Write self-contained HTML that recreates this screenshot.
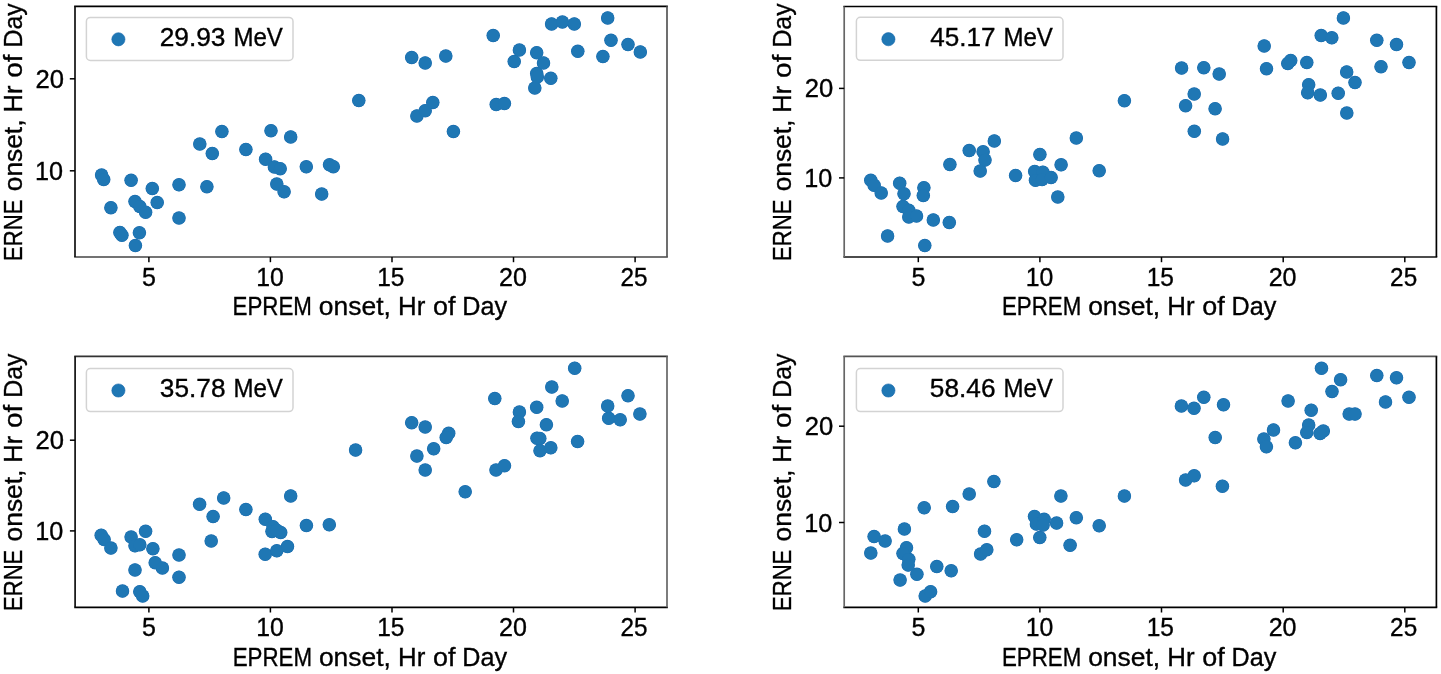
<!DOCTYPE html>
<html><head><meta charset="utf-8"><style>
html,body{margin:0;padding:0;background:#fff;width:1441px;height:674px;overflow:hidden}
svg{display:block;filter:blur(0.4px)}
text{font-family:"Liberation Sans", sans-serif;font-size:25px;fill:#000;stroke:#000;stroke-width:0.35px}
</style></head><body>
<svg width="1441" height="674" viewBox="0 0 1441 674">
<clipPath id="c0"><rect x="75.0" y="6.3" width="592.0" height="250.7"/></clipPath>
<g clip-path="url(#c0)"><g fill="#1868ad">
<circle cx="101.6" cy="175.1" r="6.75"/>
<circle cx="103.7" cy="179.4" r="6.75"/>
<circle cx="131.1" cy="180.3" r="6.75"/>
<circle cx="152.3" cy="188.6" r="6.75"/>
<circle cx="179.0" cy="184.8" r="6.75"/>
<circle cx="206.9" cy="186.7" r="6.75"/>
<circle cx="110.9" cy="207.7" r="6.75"/>
<circle cx="135.0" cy="201.6" r="6.75"/>
<circle cx="139.8" cy="206.4" r="6.75"/>
<circle cx="145.6" cy="212.2" r="6.75"/>
<circle cx="157.2" cy="202.5" r="6.75"/>
<circle cx="179.0" cy="218.0" r="6.75"/>
<circle cx="119.9" cy="232.4" r="6.75"/>
<circle cx="121.9" cy="235.3" r="6.75"/>
<circle cx="139.4" cy="232.8" r="6.75"/>
<circle cx="135.4" cy="245.5" r="6.75"/>
<circle cx="199.8" cy="144.0" r="6.75"/>
<circle cx="212.3" cy="153.4" r="6.75"/>
<circle cx="221.9" cy="131.6" r="6.75"/>
<circle cx="245.9" cy="149.4" r="6.75"/>
<circle cx="271.0" cy="130.7" r="6.75"/>
<circle cx="290.7" cy="136.9" r="6.75"/>
<circle cx="265.6" cy="159.2" r="6.75"/>
<circle cx="274.4" cy="166.9" r="6.75"/>
<circle cx="280.2" cy="168.7" r="6.75"/>
<circle cx="306.3" cy="166.8" r="6.75"/>
<circle cx="329.5" cy="164.8" r="6.75"/>
<circle cx="333.3" cy="166.7" r="6.75"/>
<circle cx="276.8" cy="184.1" r="6.75"/>
<circle cx="284.1" cy="191.8" r="6.75"/>
<circle cx="321.7" cy="194.1" r="6.75"/>
<circle cx="358.8" cy="100.5" r="6.75"/>
<circle cx="411.7" cy="57.5" r="6.75"/>
<circle cx="425.2" cy="62.9" r="6.75"/>
<circle cx="445.8" cy="56.1" r="6.75"/>
<circle cx="416.9" cy="115.9" r="6.75"/>
<circle cx="425.2" cy="110.7" r="6.75"/>
<circle cx="432.8" cy="102.5" r="6.75"/>
<circle cx="453.4" cy="131.5" r="6.75"/>
<circle cx="493.2" cy="35.5" r="6.75"/>
<circle cx="496.2" cy="104.6" r="6.75"/>
<circle cx="504.4" cy="103.6" r="6.75"/>
<circle cx="551.6" cy="23.9" r="6.75"/>
<circle cx="562.4" cy="22.0" r="6.75"/>
<circle cx="574.3" cy="23.9" r="6.75"/>
<circle cx="607.7" cy="17.9" r="6.75"/>
<circle cx="519.4" cy="50.0" r="6.75"/>
<circle cx="514.2" cy="61.5" r="6.75"/>
<circle cx="536.7" cy="52.7" r="6.75"/>
<circle cx="543.5" cy="62.9" r="6.75"/>
<circle cx="577.8" cy="51.3" r="6.75"/>
<circle cx="611.0" cy="40.3" r="6.75"/>
<circle cx="628.0" cy="44.6" r="6.75"/>
<circle cx="640.3" cy="51.9" r="6.75"/>
<circle cx="602.9" cy="56.5" r="6.75"/>
<circle cx="536.7" cy="73.5" r="6.75"/>
<circle cx="537.3" cy="77.0" r="6.75"/>
<circle cx="550.8" cy="78.3" r="6.75"/>
<circle cx="534.8" cy="88.0" r="6.75"/>
</g><g fill="#1f77b4">
<circle cx="101.6" cy="175.1" r="6.35"/>
<circle cx="103.7" cy="179.4" r="6.35"/>
<circle cx="131.1" cy="180.3" r="6.35"/>
<circle cx="152.3" cy="188.6" r="6.35"/>
<circle cx="179.0" cy="184.8" r="6.35"/>
<circle cx="206.9" cy="186.7" r="6.35"/>
<circle cx="110.9" cy="207.7" r="6.35"/>
<circle cx="135.0" cy="201.6" r="6.35"/>
<circle cx="139.8" cy="206.4" r="6.35"/>
<circle cx="145.6" cy="212.2" r="6.35"/>
<circle cx="157.2" cy="202.5" r="6.35"/>
<circle cx="179.0" cy="218.0" r="6.35"/>
<circle cx="119.9" cy="232.4" r="6.35"/>
<circle cx="121.9" cy="235.3" r="6.35"/>
<circle cx="139.4" cy="232.8" r="6.35"/>
<circle cx="135.4" cy="245.5" r="6.35"/>
<circle cx="199.8" cy="144.0" r="6.35"/>
<circle cx="212.3" cy="153.4" r="6.35"/>
<circle cx="221.9" cy="131.6" r="6.35"/>
<circle cx="245.9" cy="149.4" r="6.35"/>
<circle cx="271.0" cy="130.7" r="6.35"/>
<circle cx="290.7" cy="136.9" r="6.35"/>
<circle cx="265.6" cy="159.2" r="6.35"/>
<circle cx="274.4" cy="166.9" r="6.35"/>
<circle cx="280.2" cy="168.7" r="6.35"/>
<circle cx="306.3" cy="166.8" r="6.35"/>
<circle cx="329.5" cy="164.8" r="6.35"/>
<circle cx="333.3" cy="166.7" r="6.35"/>
<circle cx="276.8" cy="184.1" r="6.35"/>
<circle cx="284.1" cy="191.8" r="6.35"/>
<circle cx="321.7" cy="194.1" r="6.35"/>
<circle cx="358.8" cy="100.5" r="6.35"/>
<circle cx="411.7" cy="57.5" r="6.35"/>
<circle cx="425.2" cy="62.9" r="6.35"/>
<circle cx="445.8" cy="56.1" r="6.35"/>
<circle cx="416.9" cy="115.9" r="6.35"/>
<circle cx="425.2" cy="110.7" r="6.35"/>
<circle cx="432.8" cy="102.5" r="6.35"/>
<circle cx="453.4" cy="131.5" r="6.35"/>
<circle cx="493.2" cy="35.5" r="6.35"/>
<circle cx="496.2" cy="104.6" r="6.35"/>
<circle cx="504.4" cy="103.6" r="6.35"/>
<circle cx="551.6" cy="23.9" r="6.35"/>
<circle cx="562.4" cy="22.0" r="6.35"/>
<circle cx="574.3" cy="23.9" r="6.35"/>
<circle cx="607.7" cy="17.9" r="6.35"/>
<circle cx="519.4" cy="50.0" r="6.35"/>
<circle cx="514.2" cy="61.5" r="6.35"/>
<circle cx="536.7" cy="52.7" r="6.35"/>
<circle cx="543.5" cy="62.9" r="6.35"/>
<circle cx="577.8" cy="51.3" r="6.35"/>
<circle cx="611.0" cy="40.3" r="6.35"/>
<circle cx="628.0" cy="44.6" r="6.35"/>
<circle cx="640.3" cy="51.9" r="6.35"/>
<circle cx="602.9" cy="56.5" r="6.35"/>
<circle cx="536.7" cy="73.5" r="6.35"/>
<circle cx="537.3" cy="77.0" r="6.35"/>
<circle cx="550.8" cy="78.3" r="6.35"/>
<circle cx="534.8" cy="88.0" r="6.35"/>
</g></g>
<line x1="74.15" y1="6.3" x2="667.85" y2="6.3" stroke="#000" stroke-width="1.7"/>
<line x1="74.15" y1="257.0" x2="667.85" y2="257.0" stroke="#444" stroke-width="1.7"/>
<line x1="75.0" y1="6.3" x2="75.0" y2="257.0" stroke="#111" stroke-width="1.7"/>
<line x1="667.0" y1="6.3" x2="667.0" y2="257.0" stroke="#555" stroke-width="1.7"/>
<line x1="148.9" y1="257.0" x2="148.9" y2="262.2" stroke="#000" stroke-width="1.5"/>
<text transform="translate(142.10 285.50) scale(1.0000 1)">5</text>
<line x1="270.4" y1="257.0" x2="270.4" y2="262.2" stroke="#000" stroke-width="1.5"/>
<text transform="translate(256.17 285.50) scale(0.9920 1)">10</text>
<line x1="392.0" y1="257.0" x2="392.0" y2="262.2" stroke="#000" stroke-width="1.5"/>
<text transform="translate(377.14 285.50) scale(0.9799 1)">15</text>
<line x1="513.5" y1="257.0" x2="513.5" y2="262.2" stroke="#000" stroke-width="1.5"/>
<text transform="translate(499.05 285.50) scale(1.0039 1)">20</text>
<line x1="635.1" y1="257.0" x2="635.1" y2="262.2" stroke="#000" stroke-width="1.5"/>
<text transform="translate(620.43 285.50) scale(0.9727 1)">25</text>
<line x1="69.8" y1="170.8" x2="75.0" y2="170.8" stroke="#000" stroke-width="1.5"/>
<text transform="translate(35.08 179.80) scale(1.0100 1)">10</text>
<line x1="69.8" y1="78.8" x2="75.0" y2="78.8" stroke="#000" stroke-width="1.5"/>
<text transform="translate(35.47 87.80) scale(1.0254 1)">20</text>
<text transform="translate(232.61 315.20) scale(0.8928 1)">EPREM</text>
<text transform="translate(318.84 315.20) scale(1.0570 1)">onset,</text>
<text transform="translate(398.03 315.20) scale(1.0333 1)">Hr</text>
<text transform="translate(433.02 315.20) scale(1.0754 1)">of</text>
<text transform="translate(462.29 315.20) scale(1.0071 1)">Day</text>
<text transform="translate(22.10 260.97) rotate(-90) scale(0.8855 1)">ERNE</text>
<text transform="translate(22.10 191.25) rotate(-90) scale(1.0539 1)">onset,</text>
<text transform="translate(22.10 112.54) rotate(-90) scale(1.0208 1)">Hr</text>
<text transform="translate(22.10 77.82) rotate(-90) scale(1.1206 1)">of</text>
<text transform="translate(22.10 47.49) rotate(-90) scale(0.9929 1)">Day</text>
<rect x="86.4" y="17.4" width="206.6" height="43" rx="4" fill="#fff" fill-opacity="0.8" stroke="#d3d3d3" stroke-width="1.5"/>
<circle cx="118.4" cy="39.3" r="6.6" fill="#1f77b4" stroke="#1868ad" stroke-width="0.6"/>
<text transform="translate(159.64 45.80) scale(1.0531 1)">29.93</text>
<text transform="translate(233.48 45.80) scale(0.9615 1)">MeV</text>
<clipPath id="c1"><rect x="844.2" y="6.5" width="592.2" height="250.5"/></clipPath>
<g clip-path="url(#c1)"><g fill="#1868ad">
<circle cx="870.8" cy="180.3" r="6.75"/>
<circle cx="874.1" cy="185.2" r="6.75"/>
<circle cx="881.2" cy="192.9" r="6.75"/>
<circle cx="899.7" cy="183.2" r="6.75"/>
<circle cx="904.0" cy="193.8" r="6.75"/>
<circle cx="923.9" cy="187.7" r="6.75"/>
<circle cx="923.3" cy="195.4" r="6.75"/>
<circle cx="903.0" cy="206.4" r="6.75"/>
<circle cx="908.8" cy="210.2" r="6.75"/>
<circle cx="908.8" cy="217.0" r="6.75"/>
<circle cx="916.5" cy="216.0" r="6.75"/>
<circle cx="933.3" cy="219.9" r="6.75"/>
<circle cx="949.3" cy="222.4" r="6.75"/>
<circle cx="887.6" cy="235.9" r="6.75"/>
<circle cx="924.8" cy="245.5" r="6.75"/>
<circle cx="949.9" cy="164.5" r="6.75"/>
<circle cx="969.2" cy="150.5" r="6.75"/>
<circle cx="983.1" cy="151.8" r="6.75"/>
<circle cx="985.0" cy="160.1" r="6.75"/>
<circle cx="980.2" cy="171.1" r="6.75"/>
<circle cx="994.3" cy="140.9" r="6.75"/>
<circle cx="1015.6" cy="175.4" r="6.75"/>
<circle cx="1039.9" cy="154.4" r="6.75"/>
<circle cx="1076.3" cy="138.0" r="6.75"/>
<circle cx="1061.1" cy="164.8" r="6.75"/>
<circle cx="1099.2" cy="170.7" r="6.75"/>
<circle cx="1034.7" cy="171.4" r="6.75"/>
<circle cx="1042.9" cy="172.2" r="6.75"/>
<circle cx="1035.5" cy="180.3" r="6.75"/>
<circle cx="1042.1" cy="179.6" r="6.75"/>
<circle cx="1051.1" cy="177.4" r="6.75"/>
<circle cx="1057.8" cy="197.0" r="6.75"/>
<circle cx="1124.4" cy="100.7" r="6.75"/>
<circle cx="1181.6" cy="68.1" r="6.75"/>
<circle cx="1203.8" cy="67.7" r="6.75"/>
<circle cx="1219.2" cy="74.1" r="6.75"/>
<circle cx="1194.2" cy="94.0" r="6.75"/>
<circle cx="1185.6" cy="105.7" r="6.75"/>
<circle cx="1215.1" cy="108.7" r="6.75"/>
<circle cx="1194.3" cy="131.3" r="6.75"/>
<circle cx="1222.6" cy="138.9" r="6.75"/>
<circle cx="1264.2" cy="45.9" r="6.75"/>
<circle cx="1266.5" cy="68.7" r="6.75"/>
<circle cx="1287.8" cy="63.4" r="6.75"/>
<circle cx="1290.7" cy="60.4" r="6.75"/>
<circle cx="1306.8" cy="62.5" r="6.75"/>
<circle cx="1343.4" cy="17.9" r="6.75"/>
<circle cx="1321.2" cy="35.5" r="6.75"/>
<circle cx="1331.8" cy="37.8" r="6.75"/>
<circle cx="1376.8" cy="40.3" r="6.75"/>
<circle cx="1396.5" cy="44.6" r="6.75"/>
<circle cx="1409.0" cy="62.5" r="6.75"/>
<circle cx="1381.0" cy="66.7" r="6.75"/>
<circle cx="1346.7" cy="71.9" r="6.75"/>
<circle cx="1355.0" cy="82.6" r="6.75"/>
<circle cx="1308.7" cy="84.7" r="6.75"/>
<circle cx="1307.7" cy="92.8" r="6.75"/>
<circle cx="1320.3" cy="95.1" r="6.75"/>
<circle cx="1338.2" cy="93.2" r="6.75"/>
<circle cx="1346.8" cy="113.0" r="6.75"/>
</g><g fill="#1f77b4">
<circle cx="870.8" cy="180.3" r="6.35"/>
<circle cx="874.1" cy="185.2" r="6.35"/>
<circle cx="881.2" cy="192.9" r="6.35"/>
<circle cx="899.7" cy="183.2" r="6.35"/>
<circle cx="904.0" cy="193.8" r="6.35"/>
<circle cx="923.9" cy="187.7" r="6.35"/>
<circle cx="923.3" cy="195.4" r="6.35"/>
<circle cx="903.0" cy="206.4" r="6.35"/>
<circle cx="908.8" cy="210.2" r="6.35"/>
<circle cx="908.8" cy="217.0" r="6.35"/>
<circle cx="916.5" cy="216.0" r="6.35"/>
<circle cx="933.3" cy="219.9" r="6.35"/>
<circle cx="949.3" cy="222.4" r="6.35"/>
<circle cx="887.6" cy="235.9" r="6.35"/>
<circle cx="924.8" cy="245.5" r="6.35"/>
<circle cx="949.9" cy="164.5" r="6.35"/>
<circle cx="969.2" cy="150.5" r="6.35"/>
<circle cx="983.1" cy="151.8" r="6.35"/>
<circle cx="985.0" cy="160.1" r="6.35"/>
<circle cx="980.2" cy="171.1" r="6.35"/>
<circle cx="994.3" cy="140.9" r="6.35"/>
<circle cx="1015.6" cy="175.4" r="6.35"/>
<circle cx="1039.9" cy="154.4" r="6.35"/>
<circle cx="1076.3" cy="138.0" r="6.35"/>
<circle cx="1061.1" cy="164.8" r="6.35"/>
<circle cx="1099.2" cy="170.7" r="6.35"/>
<circle cx="1034.7" cy="171.4" r="6.35"/>
<circle cx="1042.9" cy="172.2" r="6.35"/>
<circle cx="1035.5" cy="180.3" r="6.35"/>
<circle cx="1042.1" cy="179.6" r="6.35"/>
<circle cx="1051.1" cy="177.4" r="6.35"/>
<circle cx="1057.8" cy="197.0" r="6.35"/>
<circle cx="1124.4" cy="100.7" r="6.35"/>
<circle cx="1181.6" cy="68.1" r="6.35"/>
<circle cx="1203.8" cy="67.7" r="6.35"/>
<circle cx="1219.2" cy="74.1" r="6.35"/>
<circle cx="1194.2" cy="94.0" r="6.35"/>
<circle cx="1185.6" cy="105.7" r="6.35"/>
<circle cx="1215.1" cy="108.7" r="6.35"/>
<circle cx="1194.3" cy="131.3" r="6.35"/>
<circle cx="1222.6" cy="138.9" r="6.35"/>
<circle cx="1264.2" cy="45.9" r="6.35"/>
<circle cx="1266.5" cy="68.7" r="6.35"/>
<circle cx="1287.8" cy="63.4" r="6.35"/>
<circle cx="1290.7" cy="60.4" r="6.35"/>
<circle cx="1306.8" cy="62.5" r="6.35"/>
<circle cx="1343.4" cy="17.9" r="6.35"/>
<circle cx="1321.2" cy="35.5" r="6.35"/>
<circle cx="1331.8" cy="37.8" r="6.35"/>
<circle cx="1376.8" cy="40.3" r="6.35"/>
<circle cx="1396.5" cy="44.6" r="6.35"/>
<circle cx="1409.0" cy="62.5" r="6.35"/>
<circle cx="1381.0" cy="66.7" r="6.35"/>
<circle cx="1346.7" cy="71.9" r="6.35"/>
<circle cx="1355.0" cy="82.6" r="6.35"/>
<circle cx="1308.7" cy="84.7" r="6.35"/>
<circle cx="1307.7" cy="92.8" r="6.35"/>
<circle cx="1320.3" cy="95.1" r="6.35"/>
<circle cx="1338.2" cy="93.2" r="6.35"/>
<circle cx="1346.8" cy="113.0" r="6.35"/>
</g></g>
<line x1="843.35" y1="6.5" x2="1437.25" y2="6.5" stroke="#000" stroke-width="1.7"/>
<line x1="843.35" y1="257.0" x2="1437.25" y2="257.0" stroke="#111" stroke-width="1.7"/>
<line x1="844.2" y1="6.5" x2="844.2" y2="257.0" stroke="#666" stroke-width="1.7"/>
<line x1="1436.4" y1="6.5" x2="1436.4" y2="257.0" stroke="#000" stroke-width="1.7"/>
<line x1="918.3" y1="257.0" x2="918.3" y2="262.2" stroke="#000" stroke-width="1.5"/>
<text transform="translate(911.50 285.50) scale(1.0000 1)">5</text>
<line x1="1039.9" y1="257.0" x2="1039.9" y2="262.2" stroke="#000" stroke-width="1.5"/>
<text transform="translate(1025.64 285.50) scale(0.9920 1)">10</text>
<line x1="1161.5" y1="257.0" x2="1161.5" y2="262.2" stroke="#000" stroke-width="1.5"/>
<text transform="translate(1146.68 285.50) scale(0.9799 1)">15</text>
<line x1="1283.2" y1="257.0" x2="1283.2" y2="262.2" stroke="#000" stroke-width="1.5"/>
<text transform="translate(1268.66 285.50) scale(1.0039 1)">20</text>
<line x1="1404.8" y1="257.0" x2="1404.8" y2="262.2" stroke="#000" stroke-width="1.5"/>
<text transform="translate(1390.11 285.50) scale(0.9727 1)">25</text>
<line x1="839.0" y1="177.9" x2="844.2" y2="177.9" stroke="#000" stroke-width="1.5"/>
<text transform="translate(804.28 186.90) scale(1.0100 1)">10</text>
<line x1="839.0" y1="88.4" x2="844.2" y2="88.4" stroke="#000" stroke-width="1.5"/>
<text transform="translate(804.67 97.40) scale(1.0254 1)">20</text>
<text transform="translate(1001.91 315.20) scale(0.8928 1)">EPREM</text>
<text transform="translate(1088.14 315.20) scale(1.0570 1)">onset,</text>
<text transform="translate(1167.33 315.20) scale(1.0333 1)">Hr</text>
<text transform="translate(1202.32 315.20) scale(1.0754 1)">of</text>
<text transform="translate(1231.59 315.20) scale(1.0071 1)">Day</text>
<text transform="translate(791.30 261.07) rotate(-90) scale(0.8855 1)">ERNE</text>
<text transform="translate(791.30 191.35) rotate(-90) scale(1.0539 1)">onset,</text>
<text transform="translate(791.30 112.64) rotate(-90) scale(1.0208 1)">Hr</text>
<text transform="translate(791.30 77.92) rotate(-90) scale(1.1206 1)">of</text>
<text transform="translate(791.30 47.59) rotate(-90) scale(0.9929 1)">Day</text>
<rect x="856.4" y="17.3" width="206.6" height="43" rx="4" fill="#fff" fill-opacity="0.8" stroke="#d3d3d3" stroke-width="1.5"/>
<circle cx="888.4" cy="39.2" r="6.6" fill="#1f77b4" stroke="#1868ad" stroke-width="0.6"/>
<text transform="translate(930.27 45.70) scale(1.0444 1)">45.17</text>
<text transform="translate(1003.48 45.70) scale(0.9615 1)">MeV</text>
<clipPath id="c2"><rect x="75.1" y="356.3" width="591.9" height="251.0"/></clipPath>
<g clip-path="url(#c2)"><g fill="#1868ad">
<circle cx="101.2" cy="535.2" r="6.75"/>
<circle cx="104.1" cy="539.6" r="6.75"/>
<circle cx="110.9" cy="548.1" r="6.75"/>
<circle cx="131.1" cy="537.1" r="6.75"/>
<circle cx="135.0" cy="545.8" r="6.75"/>
<circle cx="139.8" cy="544.8" r="6.75"/>
<circle cx="145.6" cy="531.3" r="6.75"/>
<circle cx="152.9" cy="548.7" r="6.75"/>
<circle cx="155.2" cy="562.7" r="6.75"/>
<circle cx="162.4" cy="568.0" r="6.75"/>
<circle cx="179.0" cy="555.0" r="6.75"/>
<circle cx="179.0" cy="577.2" r="6.75"/>
<circle cx="135.0" cy="569.9" r="6.75"/>
<circle cx="122.5" cy="591.1" r="6.75"/>
<circle cx="139.8" cy="591.7" r="6.75"/>
<circle cx="142.7" cy="595.9" r="6.75"/>
<circle cx="199.6" cy="504.3" r="6.75"/>
<circle cx="223.7" cy="497.9" r="6.75"/>
<circle cx="213.1" cy="516.5" r="6.75"/>
<circle cx="245.9" cy="509.5" r="6.75"/>
<circle cx="211.2" cy="541.0" r="6.75"/>
<circle cx="265.3" cy="519.2" r="6.75"/>
<circle cx="273.0" cy="526.7" r="6.75"/>
<circle cx="272.0" cy="531.6" r="6.75"/>
<circle cx="280.7" cy="532.5" r="6.75"/>
<circle cx="306.4" cy="525.6" r="6.75"/>
<circle cx="329.3" cy="524.8" r="6.75"/>
<circle cx="265.2" cy="554.2" r="6.75"/>
<circle cx="276.8" cy="550.8" r="6.75"/>
<circle cx="287.5" cy="546.6" r="6.75"/>
<circle cx="290.7" cy="495.9" r="6.75"/>
<circle cx="355.6" cy="450.1" r="6.75"/>
<circle cx="411.7" cy="422.7" r="6.75"/>
<circle cx="425.2" cy="427.0" r="6.75"/>
<circle cx="448.7" cy="433.3" r="6.75"/>
<circle cx="446.2" cy="437.6" r="6.75"/>
<circle cx="433.7" cy="448.8" r="6.75"/>
<circle cx="416.9" cy="456.1" r="6.75"/>
<circle cx="425.2" cy="470.0" r="6.75"/>
<circle cx="465.2" cy="491.8" r="6.75"/>
<circle cx="494.8" cy="398.6" r="6.75"/>
<circle cx="496.0" cy="470.0" r="6.75"/>
<circle cx="504.5" cy="465.7" r="6.75"/>
<circle cx="574.7" cy="368.2" r="6.75"/>
<circle cx="551.8" cy="387.1" r="6.75"/>
<circle cx="562.2" cy="400.9" r="6.75"/>
<circle cx="536.7" cy="407.3" r="6.75"/>
<circle cx="519.4" cy="412.1" r="6.75"/>
<circle cx="518.4" cy="421.4" r="6.75"/>
<circle cx="546.4" cy="424.7" r="6.75"/>
<circle cx="537.0" cy="438.2" r="6.75"/>
<circle cx="539.8" cy="438.4" r="6.75"/>
<circle cx="540.0" cy="450.7" r="6.75"/>
<circle cx="550.8" cy="447.8" r="6.75"/>
<circle cx="577.6" cy="441.4" r="6.75"/>
<circle cx="607.7" cy="406.0" r="6.75"/>
<circle cx="628.0" cy="395.7" r="6.75"/>
<circle cx="608.7" cy="418.3" r="6.75"/>
<circle cx="620.2" cy="419.8" r="6.75"/>
<circle cx="639.9" cy="414.1" r="6.75"/>
<circle cx="276.7" cy="530.2" r="6.75"/>
</g><g fill="#1f77b4">
<circle cx="101.2" cy="535.2" r="6.35"/>
<circle cx="104.1" cy="539.6" r="6.35"/>
<circle cx="110.9" cy="548.1" r="6.35"/>
<circle cx="131.1" cy="537.1" r="6.35"/>
<circle cx="135.0" cy="545.8" r="6.35"/>
<circle cx="139.8" cy="544.8" r="6.35"/>
<circle cx="145.6" cy="531.3" r="6.35"/>
<circle cx="152.9" cy="548.7" r="6.35"/>
<circle cx="155.2" cy="562.7" r="6.35"/>
<circle cx="162.4" cy="568.0" r="6.35"/>
<circle cx="179.0" cy="555.0" r="6.35"/>
<circle cx="179.0" cy="577.2" r="6.35"/>
<circle cx="135.0" cy="569.9" r="6.35"/>
<circle cx="122.5" cy="591.1" r="6.35"/>
<circle cx="139.8" cy="591.7" r="6.35"/>
<circle cx="142.7" cy="595.9" r="6.35"/>
<circle cx="199.6" cy="504.3" r="6.35"/>
<circle cx="223.7" cy="497.9" r="6.35"/>
<circle cx="213.1" cy="516.5" r="6.35"/>
<circle cx="245.9" cy="509.5" r="6.35"/>
<circle cx="211.2" cy="541.0" r="6.35"/>
<circle cx="265.3" cy="519.2" r="6.35"/>
<circle cx="273.0" cy="526.7" r="6.35"/>
<circle cx="272.0" cy="531.6" r="6.35"/>
<circle cx="280.7" cy="532.5" r="6.35"/>
<circle cx="306.4" cy="525.6" r="6.35"/>
<circle cx="329.3" cy="524.8" r="6.35"/>
<circle cx="265.2" cy="554.2" r="6.35"/>
<circle cx="276.8" cy="550.8" r="6.35"/>
<circle cx="287.5" cy="546.6" r="6.35"/>
<circle cx="290.7" cy="495.9" r="6.35"/>
<circle cx="355.6" cy="450.1" r="6.35"/>
<circle cx="411.7" cy="422.7" r="6.35"/>
<circle cx="425.2" cy="427.0" r="6.35"/>
<circle cx="448.7" cy="433.3" r="6.35"/>
<circle cx="446.2" cy="437.6" r="6.35"/>
<circle cx="433.7" cy="448.8" r="6.35"/>
<circle cx="416.9" cy="456.1" r="6.35"/>
<circle cx="425.2" cy="470.0" r="6.35"/>
<circle cx="465.2" cy="491.8" r="6.35"/>
<circle cx="494.8" cy="398.6" r="6.35"/>
<circle cx="496.0" cy="470.0" r="6.35"/>
<circle cx="504.5" cy="465.7" r="6.35"/>
<circle cx="574.7" cy="368.2" r="6.35"/>
<circle cx="551.8" cy="387.1" r="6.35"/>
<circle cx="562.2" cy="400.9" r="6.35"/>
<circle cx="536.7" cy="407.3" r="6.35"/>
<circle cx="519.4" cy="412.1" r="6.35"/>
<circle cx="518.4" cy="421.4" r="6.35"/>
<circle cx="546.4" cy="424.7" r="6.35"/>
<circle cx="537.0" cy="438.2" r="6.35"/>
<circle cx="539.8" cy="438.4" r="6.35"/>
<circle cx="540.0" cy="450.7" r="6.35"/>
<circle cx="550.8" cy="447.8" r="6.35"/>
<circle cx="577.6" cy="441.4" r="6.35"/>
<circle cx="607.7" cy="406.0" r="6.35"/>
<circle cx="628.0" cy="395.7" r="6.35"/>
<circle cx="608.7" cy="418.3" r="6.35"/>
<circle cx="620.2" cy="419.8" r="6.35"/>
<circle cx="639.9" cy="414.1" r="6.35"/>
<circle cx="276.7" cy="530.2" r="6.35"/>
</g></g>
<line x1="74.25" y1="356.3" x2="667.85" y2="356.3" stroke="#333" stroke-width="1.7"/>
<line x1="74.25" y1="607.3" x2="667.85" y2="607.3" stroke="#000" stroke-width="1.7"/>
<line x1="75.1" y1="356.3" x2="75.1" y2="607.3" stroke="#111" stroke-width="1.7"/>
<line x1="667.0" y1="356.3" x2="667.0" y2="607.3" stroke="#666" stroke-width="1.7"/>
<line x1="148.9" y1="607.3" x2="148.9" y2="612.5" stroke="#000" stroke-width="1.5"/>
<text transform="translate(142.10 635.80) scale(1.0000 1)">5</text>
<line x1="270.4" y1="607.3" x2="270.4" y2="612.5" stroke="#000" stroke-width="1.5"/>
<text transform="translate(256.17 635.80) scale(0.9920 1)">10</text>
<line x1="392.0" y1="607.3" x2="392.0" y2="612.5" stroke="#000" stroke-width="1.5"/>
<text transform="translate(377.14 635.80) scale(0.9799 1)">15</text>
<line x1="513.5" y1="607.3" x2="513.5" y2="612.5" stroke="#000" stroke-width="1.5"/>
<text transform="translate(499.05 635.80) scale(1.0039 1)">20</text>
<line x1="635.1" y1="607.3" x2="635.1" y2="612.5" stroke="#000" stroke-width="1.5"/>
<text transform="translate(620.43 635.80) scale(0.9727 1)">25</text>
<line x1="69.89999999999999" y1="530.9" x2="75.1" y2="530.9" stroke="#000" stroke-width="1.5"/>
<text transform="translate(35.18 539.90) scale(1.0100 1)">10</text>
<line x1="69.89999999999999" y1="440.2" x2="75.1" y2="440.2" stroke="#000" stroke-width="1.5"/>
<text transform="translate(35.57 449.20) scale(1.0254 1)">20</text>
<text transform="translate(232.66 665.50) scale(0.8928 1)">EPREM</text>
<text transform="translate(318.89 665.50) scale(1.0570 1)">onset,</text>
<text transform="translate(398.08 665.50) scale(1.0333 1)">Hr</text>
<text transform="translate(433.07 665.50) scale(1.0754 1)">of</text>
<text transform="translate(462.34 665.50) scale(1.0071 1)">Day</text>
<text transform="translate(22.20 611.12) rotate(-90) scale(0.8855 1)">ERNE</text>
<text transform="translate(22.20 541.40) rotate(-90) scale(1.0539 1)">onset,</text>
<text transform="translate(22.20 462.69) rotate(-90) scale(1.0208 1)">Hr</text>
<text transform="translate(22.20 427.97) rotate(-90) scale(1.1206 1)">of</text>
<text transform="translate(22.20 397.64) rotate(-90) scale(0.9929 1)">Day</text>
<rect x="86.4" y="368.6" width="206.6" height="43" rx="4" fill="#fff" fill-opacity="0.8" stroke="#d3d3d3" stroke-width="1.5"/>
<circle cx="118.4" cy="390.5" r="6.6" fill="#1f77b4" stroke="#1868ad" stroke-width="0.6"/>
<text transform="translate(159.85 397.00) scale(1.0496 1)">35.78</text>
<text transform="translate(233.48 397.00) scale(0.9615 1)">MeV</text>
<clipPath id="c3"><rect x="844.2" y="356.3" width="592.2" height="251.0"/></clipPath>
<g clip-path="url(#c3)"><g fill="#1868ad">
<circle cx="874.1" cy="536.5" r="6.75"/>
<circle cx="885.1" cy="541.0" r="6.75"/>
<circle cx="870.8" cy="553.1" r="6.75"/>
<circle cx="904.4" cy="529.0" r="6.75"/>
<circle cx="906.5" cy="547.7" r="6.75"/>
<circle cx="903.0" cy="553.5" r="6.75"/>
<circle cx="908.8" cy="559.3" r="6.75"/>
<circle cx="908.2" cy="565.1" r="6.75"/>
<circle cx="916.9" cy="574.3" r="6.75"/>
<circle cx="900.1" cy="580.1" r="6.75"/>
<circle cx="925.2" cy="595.9" r="6.75"/>
<circle cx="930.6" cy="591.7" r="6.75"/>
<circle cx="936.8" cy="566.6" r="6.75"/>
<circle cx="951.2" cy="570.8" r="6.75"/>
<circle cx="924.2" cy="507.8" r="6.75"/>
<circle cx="952.6" cy="506.6" r="6.75"/>
<circle cx="969.2" cy="494.0" r="6.75"/>
<circle cx="993.9" cy="481.5" r="6.75"/>
<circle cx="984.5" cy="531.2" r="6.75"/>
<circle cx="980.6" cy="554.0" r="6.75"/>
<circle cx="986.8" cy="549.8" r="6.75"/>
<circle cx="1016.7" cy="539.8" r="6.75"/>
<circle cx="1039.8" cy="537.6" r="6.75"/>
<circle cx="1034.5" cy="516.4" r="6.75"/>
<circle cx="1036.4" cy="524.1" r="6.75"/>
<circle cx="1044.1" cy="519.3" r="6.75"/>
<circle cx="1043.1" cy="525.1" r="6.75"/>
<circle cx="1056.6" cy="523.1" r="6.75"/>
<circle cx="1060.9" cy="496.1" r="6.75"/>
<circle cx="1076.3" cy="517.7" r="6.75"/>
<circle cx="1070.1" cy="545.3" r="6.75"/>
<circle cx="1099.2" cy="525.8" r="6.75"/>
<circle cx="1124.4" cy="496.1" r="6.75"/>
<circle cx="1181.4" cy="406.0" r="6.75"/>
<circle cx="1194.0" cy="408.3" r="6.75"/>
<circle cx="1203.8" cy="397.3" r="6.75"/>
<circle cx="1223.5" cy="404.8" r="6.75"/>
<circle cx="1215.2" cy="437.6" r="6.75"/>
<circle cx="1185.6" cy="480.0" r="6.75"/>
<circle cx="1194.2" cy="475.8" r="6.75"/>
<circle cx="1222.4" cy="486.2" r="6.75"/>
<circle cx="1288.1" cy="400.9" r="6.75"/>
<circle cx="1311.2" cy="410.2" r="6.75"/>
<circle cx="1321.5" cy="368.3" r="6.75"/>
<circle cx="1340.6" cy="379.7" r="6.75"/>
<circle cx="1332.0" cy="391.5" r="6.75"/>
<circle cx="1273.5" cy="429.9" r="6.75"/>
<circle cx="1263.9" cy="439.1" r="6.75"/>
<circle cx="1266.4" cy="446.8" r="6.75"/>
<circle cx="1295.4" cy="442.8" r="6.75"/>
<circle cx="1308.7" cy="425.0" r="6.75"/>
<circle cx="1306.8" cy="432.4" r="6.75"/>
<circle cx="1323.3" cy="431.0" r="6.75"/>
<circle cx="1320.1" cy="433.5" r="6.75"/>
<circle cx="1349.2" cy="414.1" r="6.75"/>
<circle cx="1355.0" cy="414.1" r="6.75"/>
<circle cx="1376.8" cy="375.5" r="6.75"/>
<circle cx="1396.5" cy="377.8" r="6.75"/>
<circle cx="1385.5" cy="401.9" r="6.75"/>
<circle cx="1409.0" cy="397.3" r="6.75"/>
</g><g fill="#1f77b4">
<circle cx="874.1" cy="536.5" r="6.35"/>
<circle cx="885.1" cy="541.0" r="6.35"/>
<circle cx="870.8" cy="553.1" r="6.35"/>
<circle cx="904.4" cy="529.0" r="6.35"/>
<circle cx="906.5" cy="547.7" r="6.35"/>
<circle cx="903.0" cy="553.5" r="6.35"/>
<circle cx="908.8" cy="559.3" r="6.35"/>
<circle cx="908.2" cy="565.1" r="6.35"/>
<circle cx="916.9" cy="574.3" r="6.35"/>
<circle cx="900.1" cy="580.1" r="6.35"/>
<circle cx="925.2" cy="595.9" r="6.35"/>
<circle cx="930.6" cy="591.7" r="6.35"/>
<circle cx="936.8" cy="566.6" r="6.35"/>
<circle cx="951.2" cy="570.8" r="6.35"/>
<circle cx="924.2" cy="507.8" r="6.35"/>
<circle cx="952.6" cy="506.6" r="6.35"/>
<circle cx="969.2" cy="494.0" r="6.35"/>
<circle cx="993.9" cy="481.5" r="6.35"/>
<circle cx="984.5" cy="531.2" r="6.35"/>
<circle cx="980.6" cy="554.0" r="6.35"/>
<circle cx="986.8" cy="549.8" r="6.35"/>
<circle cx="1016.7" cy="539.8" r="6.35"/>
<circle cx="1039.8" cy="537.6" r="6.35"/>
<circle cx="1034.5" cy="516.4" r="6.35"/>
<circle cx="1036.4" cy="524.1" r="6.35"/>
<circle cx="1044.1" cy="519.3" r="6.35"/>
<circle cx="1043.1" cy="525.1" r="6.35"/>
<circle cx="1056.6" cy="523.1" r="6.35"/>
<circle cx="1060.9" cy="496.1" r="6.35"/>
<circle cx="1076.3" cy="517.7" r="6.35"/>
<circle cx="1070.1" cy="545.3" r="6.35"/>
<circle cx="1099.2" cy="525.8" r="6.35"/>
<circle cx="1124.4" cy="496.1" r="6.35"/>
<circle cx="1181.4" cy="406.0" r="6.35"/>
<circle cx="1194.0" cy="408.3" r="6.35"/>
<circle cx="1203.8" cy="397.3" r="6.35"/>
<circle cx="1223.5" cy="404.8" r="6.35"/>
<circle cx="1215.2" cy="437.6" r="6.35"/>
<circle cx="1185.6" cy="480.0" r="6.35"/>
<circle cx="1194.2" cy="475.8" r="6.35"/>
<circle cx="1222.4" cy="486.2" r="6.35"/>
<circle cx="1288.1" cy="400.9" r="6.35"/>
<circle cx="1311.2" cy="410.2" r="6.35"/>
<circle cx="1321.5" cy="368.3" r="6.35"/>
<circle cx="1340.6" cy="379.7" r="6.35"/>
<circle cx="1332.0" cy="391.5" r="6.35"/>
<circle cx="1273.5" cy="429.9" r="6.35"/>
<circle cx="1263.9" cy="439.1" r="6.35"/>
<circle cx="1266.4" cy="446.8" r="6.35"/>
<circle cx="1295.4" cy="442.8" r="6.35"/>
<circle cx="1308.7" cy="425.0" r="6.35"/>
<circle cx="1306.8" cy="432.4" r="6.35"/>
<circle cx="1323.3" cy="431.0" r="6.35"/>
<circle cx="1320.1" cy="433.5" r="6.35"/>
<circle cx="1349.2" cy="414.1" r="6.35"/>
<circle cx="1355.0" cy="414.1" r="6.35"/>
<circle cx="1376.8" cy="375.5" r="6.35"/>
<circle cx="1396.5" cy="377.8" r="6.35"/>
<circle cx="1385.5" cy="401.9" r="6.35"/>
<circle cx="1409.0" cy="397.3" r="6.35"/>
</g></g>
<line x1="843.35" y1="356.3" x2="1437.25" y2="356.3" stroke="#555" stroke-width="1.7"/>
<line x1="843.35" y1="607.3" x2="1437.25" y2="607.3" stroke="#000" stroke-width="1.7"/>
<line x1="844.2" y1="356.3" x2="844.2" y2="607.3" stroke="#666" stroke-width="1.7"/>
<line x1="1436.4" y1="356.3" x2="1436.4" y2="607.3" stroke="#000" stroke-width="1.7"/>
<line x1="918.3" y1="607.3" x2="918.3" y2="612.5" stroke="#000" stroke-width="1.5"/>
<text transform="translate(911.50 635.80) scale(1.0000 1)">5</text>
<line x1="1039.9" y1="607.3" x2="1039.9" y2="612.5" stroke="#000" stroke-width="1.5"/>
<text transform="translate(1025.64 635.80) scale(0.9920 1)">10</text>
<line x1="1161.5" y1="607.3" x2="1161.5" y2="612.5" stroke="#000" stroke-width="1.5"/>
<text transform="translate(1146.68 635.80) scale(0.9799 1)">15</text>
<line x1="1283.2" y1="607.3" x2="1283.2" y2="612.5" stroke="#000" stroke-width="1.5"/>
<text transform="translate(1268.66 635.80) scale(1.0039 1)">20</text>
<line x1="1404.8" y1="607.3" x2="1404.8" y2="612.5" stroke="#000" stroke-width="1.5"/>
<text transform="translate(1390.11 635.80) scale(0.9727 1)">25</text>
<line x1="839.0" y1="522.5" x2="844.2" y2="522.5" stroke="#000" stroke-width="1.5"/>
<text transform="translate(804.28 531.50) scale(1.0100 1)">10</text>
<line x1="839.0" y1="426.2" x2="844.2" y2="426.2" stroke="#000" stroke-width="1.5"/>
<text transform="translate(804.67 435.20) scale(1.0254 1)">20</text>
<text transform="translate(1001.91 665.50) scale(0.8928 1)">EPREM</text>
<text transform="translate(1088.14 665.50) scale(1.0570 1)">onset,</text>
<text transform="translate(1167.33 665.50) scale(1.0333 1)">Hr</text>
<text transform="translate(1202.32 665.50) scale(1.0754 1)">of</text>
<text transform="translate(1231.59 665.50) scale(1.0071 1)">Day</text>
<text transform="translate(791.30 611.12) rotate(-90) scale(0.8855 1)">ERNE</text>
<text transform="translate(791.30 541.40) rotate(-90) scale(1.0539 1)">onset,</text>
<text transform="translate(791.30 462.69) rotate(-90) scale(1.0208 1)">Hr</text>
<text transform="translate(791.30 427.97) rotate(-90) scale(1.1206 1)">of</text>
<text transform="translate(791.30 397.64) rotate(-90) scale(0.9929 1)">Day</text>
<rect x="856.4" y="368.6" width="206.6" height="43" rx="4" fill="#fff" fill-opacity="0.8" stroke="#d3d3d3" stroke-width="1.5"/>
<circle cx="888.4" cy="390.5" r="6.6" fill="#1f77b4" stroke="#1868ad" stroke-width="0.6"/>
<text transform="translate(929.85 397.00) scale(1.0496 1)">58.46</text>
<text transform="translate(1003.48 397.00) scale(0.9615 1)">MeV</text>
</svg>
</body></html>
